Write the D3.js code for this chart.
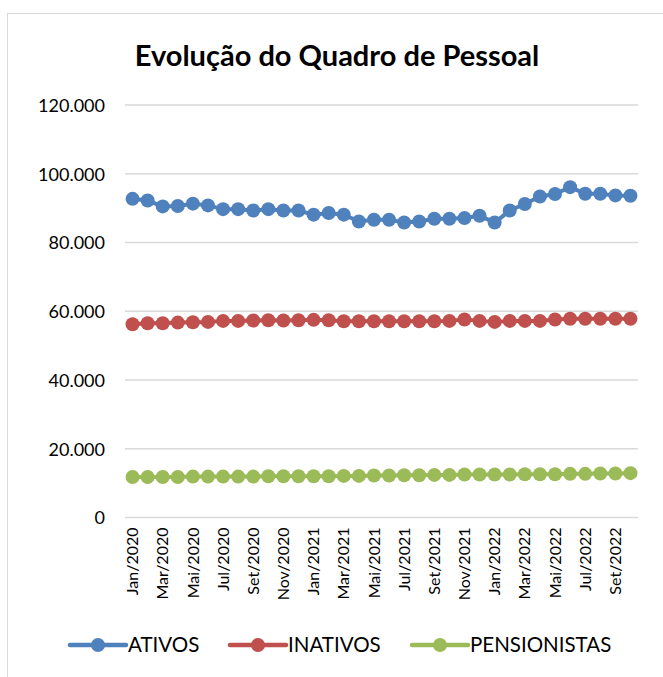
<!DOCTYPE html>
<html>
<head>
<meta charset="utf-8">
<script src="https://cdn.jsdelivr.net/npm/d3@7"></script>
<style>
  body { margin: 0; background: #fff; }
  text { font-family: Lato, "Open Sans", sans-serif; fill: #000; }
</style>
</head>
<body>
<script>
// months Jan/2020 .. Out/2022
var months = ["Jan/2020","Fev/2020","Mar/2020","Abr/2020","Mai/2020","Jun/2020","Jul/2020","Ago/2020","Set/2020","Out/2020","Nov/2020","Dez/2020",
              "Jan/2021","Fev/2021","Mar/2021","Abr/2021","Mai/2021","Jun/2021","Jul/2021","Ago/2021","Set/2021","Out/2021","Nov/2021","Dez/2021",
              "Jan/2022","Fev/2022","Mar/2022","Abr/2022","Mai/2022","Jun/2022","Jul/2022","Ago/2022","Set/2022","Out/2022"];

var ativos = [92700,92200,90500,90600,91300,90800,89700,89700,89300,89700,89300,89300,
              88100,88600,88100,86100,86600,86600,85800,86100,86900,86900,87100,87800,
              85800,89300,91200,93400,94100,96100,94200,94200,93700,93600];

var inativos = [56200,56500,56500,56700,56800,56900,57200,57200,57300,57400,57300,57400,
                57500,57400,57100,57100,57100,57100,57100,57100,57100,57200,57600,57200,
                56900,57200,57200,57200,57600,57800,57800,57800,57800,57800];

var pensionistas = [11800,11800,11800,11800,11900,11900,11900,11900,11900,12000,12000,12000,
                    12000,12000,12100,12100,12200,12200,12300,12300,12400,12400,12500,12500,
                    12500,12500,12600,12600,12600,12700,12700,12800,12800,12900];

var yTicks = [0,20000,40000,60000,80000,100000,120000];

var series = [
    {name: "ATIVOS", values: ativos, color: "#4F81BD"},
    {name: "INATIVOS", values: inativos, color: "#C0504D"},
    {name: "PENSIONISTAS", values: pensionistas, color: "#9BBB59"}
];

var width = 663, height = 677;
var plot = {left: 125, right: 638, top: 105, bottom: 517.5};

var svg = d3.select("body").append("svg")
    .attr("width", width)
    .attr("height", height);

// chart border
svg.append("rect")
    .attr("x", 7.5).attr("y", 13.5)
    .attr("width", 700).attr("height", 700)
    .attr("fill", "none")
    .attr("stroke", "#D9D9D9");

svg.append("text")
    .attr("x", 337).attr("y", 66)
    .attr("text-anchor", "middle")
    .style("font-size", "29px")
    .style("font-weight", "bold")
    .text("Evolução do Quadro de Pessoal");

var x = d3.scaleBand()
    .domain(months)
    .range([plot.left, plot.right]);

var y = d3.scaleLinear()
    .domain([0, 120000])
    .range([plot.bottom, plot.top]);

var fmt = function(v) { return v === 0 ? "0" : d3.format(",")(v).replace(/,/g, "."); };

// gridlines
svg.append("g")
    .selectAll("line")
    .data(yTicks)
    .enter().append("line")
    .attr("x1", plot.left).attr("x2", plot.right)
    .attr("y1", function(d){ return y(d); })
    .attr("y2", function(d){ return y(d); })
    .attr("stroke", "#D9D9D9")
    .attr("stroke-width", 1.3);

// y axis labels
var yAxis = svg.append("g")
    .attr("transform", "translate(" + (plot.left - 20) + ",0)")
    .call(d3.axisLeft(y).tickValues(yTicks).tickFormat(fmt).tickSize(0).tickPadding(0));
yAxis.select(".domain").remove();
yAxis.selectAll("text")
    .style("font-size", "18px")
    .attr("dy", "0.36em")
    .attr("font-family", null);

// x axis labels every other month
var xAxis = svg.append("g")
    .attr("transform", "translate(0," + (plot.bottom + 10) + ")")
    .call(d3.axisBottom(x)
        .tickValues(months.filter(function(d, i){ return i % 2 === 0; }))
        .tickSize(0).tickPadding(0));
xAxis.select(".domain").remove();
xAxis.selectAll("text")
    .style("font-size", "16px")
    .attr("font-family", null)
    .attr("transform", "rotate(-90)")
    .attr("text-anchor", "end")
    .attr("x", 0)
    .attr("y", 0)
    .attr("dy", "0.35em");

var line = d3.line()
    .x(function(d, i){ return x(months[i]) + x.bandwidth() / 2; })
    .y(function(d){ return y(d); });

series.forEach(function(s) {
    var g = svg.append("g");
    g.append("path")
        .datum(s.values)
        .attr("d", line)
        .attr("fill", "none")
        .attr("stroke", s.color)
        .attr("stroke-width", 4);
    g.selectAll("circle")
        .data(s.values)
        .enter().append("circle")
        .attr("cx", function(d, i){ return x(months[i]) + x.bandwidth() / 2; })
        .attr("cy", function(d){ return y(d); })
        .attr("r", 7)
        .attr("fill", s.color);
});

// legend
var legendX = [70, 230, 412];
var legendY = 645;
var leg = svg.selectAll(".legend")
    .data(series)
    .enter().append("g")
    .attr("class", "legend")
    .attr("transform", function(d, i){ return "translate(" + legendX[i] + "," + legendY + ")"; });
leg.append("line")
    .attr("x1", 0).attr("x2", 56)
    .attr("stroke", function(d){ return d.color; })
    .attr("stroke-width", 4.5)
    .attr("stroke-linecap", "round");
leg.append("circle")
    .attr("cx", 28).attr("r", 7)
    .attr("fill", function(d){ return d.color; });
leg.append("text")
    .attr("x", 58)
    .attr("dy", "0.36em")
    .style("font-size", "20.5px")
    .text(function(d){ return d.name; });
</script>
</body>
</html>
